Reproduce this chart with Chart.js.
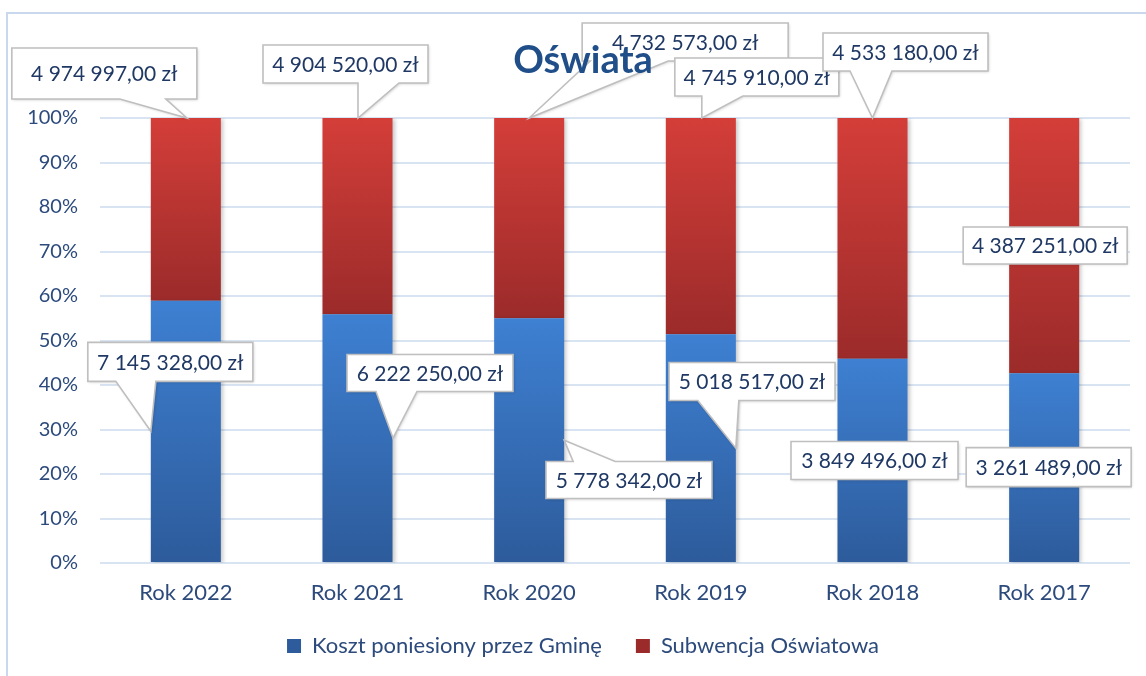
<!DOCTYPE html>
<html><head><meta charset="utf-8">
<script src="https://cdn.jsdelivr.net/npm/chart.js@4/dist/chart.umd.min.js"></script>
<style>html,body{margin:0;padding:0;background:#fff;} #wrap{position:relative;width:1146px;height:676px;}</style>
</head><body><div id="wrap"><canvas id="c"></canvas></div>
<script>
// ---- data ----
const categories = ['Rok 2022', 'Rok 2021', 'Rok 2020', 'Rok 2019', 'Rok 2018', 'Rok 2017'];
const seriesNames = ['Koszt poniesiony przez Gminę', 'Subwencja Oświatowa'];
const kosztGminy = [7145328, 6222250, 5778342, 5018517, 3849496, 3261489];
const subwencja = [4974997, 4904520, 4732573, 4745910, 4533180, 4387251];
const yTicks = [0, 10, 20, 30, 40, 50, 60, 70, 80, 90, 100];
const chartTitle = 'Oświata';

const totals = categories.map((_, i) => kosztGminy[i] + subwencja[i]);
const kosztPct = kosztGminy.map((v, i) => v / totals[i] * 100);
const subPct = subwencja.map((v, i) => v / totals[i] * 100);
const rawValues = [kosztGminy, subwencja];

function fmt(v) {
  return String(v).replace(/\B(?=(\d{3})+(?!\d))/g, ' ') + ',00 zł';
}

// ---- callout placement (pixels relative to bar centre / reference y) ----
const calloutLayout = [
  [ // Koszt (blue) – reference: middle of segment
    {ref:'mid', x:-98,  y:-89,  w:165, h:39, tip:[-35,0],  side:'bottom', b:[-70,-30]},
    {ref:'mid', x:-10.5,y:-83.6,w:166, h:37, tip:[35.5,0], side:'bottom', b:[18.5,59.5]},
    {ref:'mid', x:16.8, y:21.3, w:166, h:37, tip:[35,0],   side:'top',    b:[44,86]},
    {ref:'mid', x:-31.8,y:-85.6,w:166, h:38, tip:[35,0],   side:'bottom', b:[-3,38]},
    {ref:'mid', x:-81.5,y:-18.8,w:167, h:38, tip:null},
    {ref:'mid', x:-78,  y:-20,  w:165, h:39, tip:null}
  ],
  [ // Subwencja (red) – reference: top of bar
    {ref:'top', x:-174, y:-70, w:185, h:51, tip:[1,0],   side:'bottom', b:[-66,-20]},
    {ref:'top', x:-94.5,y:-73, w:165, h:38, tip:[0.5,0], side:'bottom', b:[0.5,41.5]},
    {ref:'top', x:53,   y:-95, w:206, h:38, tip:[0,0],   side:'bottom', b:[61,139]},
    {ref:'top', x:-26,  y:-60, w:164, h:38, tip:[1,0],   side:'bottom', b:[1,42]},
    {ref:'top', x:-49.5,y:-85, w:165, h:38, tip:[0,0],   side:'bottom', b:[-22.5,19.5]},
    {ref:'mid', x:-81,  y:-18.6,w:164, h:37, tip:null}
  ]
];

const gradStops = [
  ['#3e80d2', '#2d5b9b'],
  ['#d43e39', '#9b2b2a']
];

function segGradient(ctx, dsIdx, fallback) {
  const chart = ctx.chart;
  if (ctx.type !== 'data' || !chart.chartArea || !chart.scales.y) return fallback;
  const i = ctx.dataIndex;
  const y = chart.scales.y;
  const lo = dsIdx === 0 ? 0 : kosztPct[i];
  const hi = dsIdx === 0 ? kosztPct[i] : 100;
  const top = y.getPixelForValue(hi), bot = y.getPixelForValue(lo);
  if (!isFinite(top) || !isFinite(bot)) return fallback;
  const g = chart.ctx.createLinearGradient(0, top, 0, bot);
  g.addColorStop(0, gradStops[dsIdx][0]);
  g.addColorStop(1, gradStops[dsIdx][1]);
  return g;
}

const FONT = 'Lato';
const tickColor = '#2c4a7c';

const frame = {
  id: 'frame',
  afterLayout(chart) {
    // centre the legend on the whole chart object (which extends past the window)
    const l = chart.legend;
    if (l) { l.left += 18; l.right += 18; }
    // let the category labels extend below the (thin) axis box without clipping
    const x = chart.scales.x;
    if (x) { x.bottom = x.top + 60; x.height = 60; }
  },
  beforeDraw(chart) {
    const c = chart.ctx;
    c.save();
    c.strokeStyle = '#c9d8ec';
    c.lineWidth = 2;
    c.beginPath();
    c.moveTo(7, 700); c.lineTo(7, 13); c.lineTo(1150, 13);
    c.stroke();
    c.restore();
  }
};

const barShadow = {
  id: 'barShadow',
  beforeDatasetsDraw(chart) {
    const c = chart.ctx;
    c.save();
    c.shadowColor = 'rgba(0,0,0,0.22)';
    c.shadowBlur = 4;
    c.shadowOffsetX = 2;
    c.shadowOffsetY = 1;
  },
  afterDatasetsDraw(chart) {
    chart.ctx.restore();
  }
};

function drawCallout(c, bx, by, w, h, L, cx, ry, text) {
  c.save();
  c.beginPath();
  c.moveTo(bx, by);
  if (L.tip && L.side === 'top') {
    const a = cx + Math.min(L.b[0], L.b[1]), b = cx + Math.max(L.b[0], L.b[1]);
    c.lineTo(a, by); c.lineTo(cx + L.tip[0], ry + L.tip[1]); c.lineTo(b, by);
  }
  c.lineTo(bx + w, by);
  c.lineTo(bx + w, by + h);
  if (L.tip && L.side === 'bottom') {
    const a = cx + Math.min(L.b[0], L.b[1]), b = cx + Math.max(L.b[0], L.b[1]);
    c.lineTo(b, by + h); c.lineTo(cx + L.tip[0], ry + L.tip[1]); c.lineTo(a, by + h);
  }
  c.lineTo(bx, by + h);
  c.closePath();
  c.shadowColor = 'rgba(0,0,0,0.2)';
  c.shadowBlur = 3;
  c.shadowOffsetX = 1;
  c.shadowOffsetY = 1;
  c.fillStyle = '#ffffff';
  c.fill();
  c.shadowColor = 'transparent';
  c.strokeStyle = '#bfbfbf';
  c.lineWidth = 1.6;
  c.stroke();
  c.fillStyle = '#1f3864';
  c.font = '21px ' + FONT;
  c.textAlign = 'center';
  c.textBaseline = 'middle';
  c.fillText(text, bx + w / 2, by + h / 2 + 1);
  c.restore();
}

const callouts = {
  id: 'callouts',
  afterDatasetsDraw(chart) {
    const c = chart.ctx;
    const yTop = chart.scales.y.getPixelForValue(100);
    for (let d = 0; d < 2; d++) {
      const meta = chart.getDatasetMeta(d);
      meta.data.forEach((el, i) => {
        const L = calloutLayout[d][i];
        const cx = el.x;
        const ry = L.ref === 'top' ? yTop : (el.y + el.base) / 2;
        drawCallout(c, cx + L.x, ry + L.y, L.w, L.h, L, cx, ry, fmt(rawValues[d][i]));
      });
    }
  },
  afterDraw(chart) {
    const c = chart.ctx;
    c.save();
    c.font = 'bold 38px ' + FONT;
    c.fillStyle = '#1f4e89';
    c.textAlign = 'center';
    c.textBaseline = 'middle';
    c.fillText(chartTitle, 583, 61);
    c.restore();
  }
};

new Chart(document.getElementById('c'), {
  type: 'bar',
  data: {
    labels: categories,
    datasets: [
      { label: seriesNames[0], data: kosztPct, backgroundColor: ctx => segGradient(ctx, 0, '#3a72c2'),
        borderWidth: 0, categoryPercentage: 1, barPercentage: 0.408 },
      { label: seriesNames[1], data: subPct, backgroundColor: ctx => segGradient(ctx, 1, '#c23633'),
        borderWidth: 0, categoryPercentage: 1, barPercentage: 0.408 }
    ]
  },
  options: {
    responsive: true,
    maintainAspectRatio: false,
    animation: false,
    layout: { padding: { left: 0, right: 16, top: 118, bottom: 9 } },
    scales: {
      x: {
        stacked: true,
        grid: { display: false, drawTicks: false },
        border: { display: false },
        ticks: { color: tickColor, font: { family: FONT, size: 22 }, padding: 17 },
        afterFit: s => { s.height = 38; }
      },
      y: {
        stacked: true,
        min: 0, max: 100,
        afterBuildTicks: s => { s.ticks = yTicks.map(v => ({ value: v })); },
        grid: { color: '#d9e4f3', lineWidth: 2, drawTicks: false },
        border: { display: false },
        ticks: { color: tickColor, font: { family: FONT, size: 20 }, padding: 22, callback: v => v + '%' },
        afterFit: s => { s.width = 100; }
      }
    },
    plugins: {
      legend: {
        position: 'bottom',
        labels: { color: tickColor, font: { family: FONT, size: 22 }, boxWidth: 14, boxHeight: 14, padding: 34 }
      },
      tooltip: { enabled: false },
      title: { display: false }
    }
  },
  plugins: [frame, barShadow, callouts]
});
</script>
</body></html>
